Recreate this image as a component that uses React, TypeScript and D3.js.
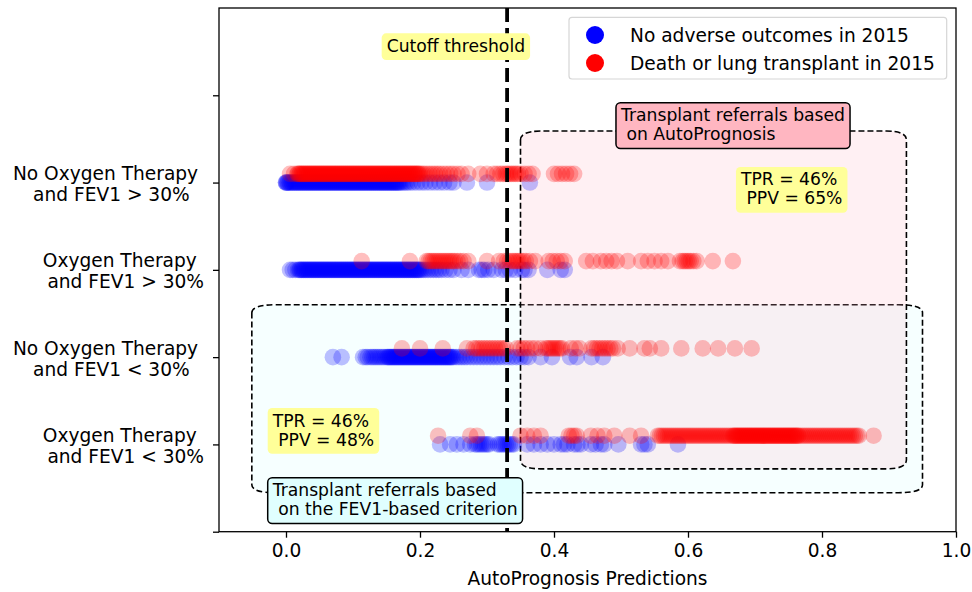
import React, { useEffect, useRef } from "react";
import * as d3 from "d3";

// rows bottom -> top (y = 1..4)
const rowLabels = [
  ["Oxygen Therapy ", " and FEV1 < 30%"],
  ["No Oxygen Therapy ", " and FEV1 < 30%"],
  ["Oxygen Therapy ", " and FEV1 > 30%"],
  ["No Oxygen Therapy ", " and FEV1 > 30%"],
];

const xTicks = [0.0, 0.2, 0.4, 0.6, 0.8, 1.0];
const yTicks = [0, 1, 2, 3, 4, 5];
const cutoff = 0.33;

// predictions, patients with no adverse outcome
const o2LowNeg = [0.230,0.245,0.255,0.265,0.275,0.282,0.285,0.288,0.291,0.294,0.297,0.300,0.303,0.316,0.319,0.322,0.325,0.328,0.331,0.334,0.337,0.340,0.360,0.370,0.380,0.390,0.400,0.410,0.415,0.420,0.430,0.435,0.440,0.455,0.462,0.470,0.475,0.496,0.530,0.535,0.540,0.585];
const noO2LowNeg = [0.070,0.083,0.115,0.119,0.122,0.126,0.129,0.132,0.135,0.138,0.141,0.144,0.147,
  0.150,0.152,0.153,0.155,0.156,0.158,0.159,0.161,0.162,0.164,0.165,0.167,0.168,0.170,0.171,0.173,0.174,0.176,0.177,0.179,0.180,0.182,0.183,0.185,0.186,0.188,0.189,0.191,0.192,0.194,0.195,0.197,0.198,0.200,
  0.201,0.203,0.204,0.206,0.207,0.209,0.210,0.212,0.213,0.215,0.216,0.218,0.219,0.221,0.222,0.224,0.225,0.227,0.228,0.230,0.231,0.233,0.234,0.236,0.237,0.239,0.240,0.242,0.243,0.245,0.246,0.248,0.250,
  0.254,0.258,0.262,0.266,0.270,0.275,0.280,0.285,0.290,0.295,0.300,0.305,0.310,0.315,0.320,0.326,0.332,0.338,0.344,0.350,0.356,0.362,0.380,0.397,0.424,0.434,0.456,0.473];
const o2HighNeg = [0.006,0.010,0.014,
  0.018,0.020,0.021,0.023,0.024,0.026,0.027,0.029,0.030,0.032,0.033,0.035,0.036,0.038,0.039,0.041,0.042,0.044,0.045,0.047,0.048,0.050,0.051,0.053,0.054,0.056,0.057,0.059,0.060,0.062,0.063,0.065,0.066,0.068,0.069,0.071,0.072,0.074,0.075,0.077,0.078,0.080,
  0.081,0.083,0.084,0.086,0.087,0.089,0.090,0.092,0.093,0.095,0.096,0.098,0.099,0.101,0.102,0.104,0.105,0.107,0.108,0.110,0.111,0.113,0.114,0.116,0.117,0.119,0.120,0.122,0.123,0.125,0.126,0.128,0.129,0.131,0.132,0.134,0.135,0.137,0.138,0.140,
  0.141,0.143,0.144,0.146,0.147,0.149,0.150,0.152,0.153,0.155,0.156,0.158,0.159,0.161,0.162,0.164,0.165,0.167,0.168,0.170,0.171,0.173,0.174,0.176,0.177,0.179,0.180,0.182,0.183,0.185,0.186,0.188,0.189,0.191,0.192,0.194,0.195,0.197,0.198,0.200,0.202,0.205,0.208,
  0.212,0.216,0.220,0.224,0.228,0.232,0.238,0.244,0.250,0.262,0.272,0.288,0.292,0.296,0.302,0.310,0.322,0.328,0.334,0.342,0.352,0.356,0.362,0.390,0.410,0.416];
const noO2HighNeg = [0.000,0.000,0.001,0.002,0.003,0.005,0.006,0.008,0.009,0.011,0.012,0.014,0.015,0.017,
  0.018,0.020,0.021,0.023,0.024,0.026,0.027,0.029,0.030,0.032,0.033,0.035,0.036,0.038,0.039,0.041,0.042,0.044,0.045,0.047,0.048,0.050,0.051,0.053,0.054,0.056,0.057,0.059,0.060,0.062,0.063,0.065,0.066,0.068,0.069,0.071,0.072,0.074,0.075,0.077,0.078,0.080,
  0.081,0.083,0.084,0.086,0.087,0.089,0.090,0.092,0.093,0.095,0.096,0.098,0.099,0.101,0.102,0.104,0.105,0.107,0.108,0.110,0.111,0.113,0.114,0.116,0.117,0.119,0.120,0.122,0.123,0.125,0.126,0.128,0.129,0.131,0.132,0.134,0.135,0.137,0.138,0.140,
  0.141,0.143,0.144,0.146,0.147,0.149,0.150,0.152,0.153,0.155,0.156,0.158,0.159,0.161,0.162,0.164,0.165,0.167,0.168,0.170,0.172,0.175,0.178,0.181,
  0.185,0.190,0.196,0.202,0.208,0.215,0.222,0.229,0.236,0.244,0.250,0.270,0.300,0.364];

// predictions, patients who died or got a transplant
const o2LowPos = [0.227,0.275,0.285,0.350,0.360,0.370,0.380,0.422,0.426,0.430,0.434,0.455,0.465,0.475,0.490,0.513,0.530,
  0.555,0.558,0.561,0.564,0.567,0.570,0.573,0.576,0.579,0.582,0.585,0.588,0.591,0.594,0.597,0.600,0.603,0.606,0.609,0.612,0.615,0.618,0.621,0.624,0.627,0.630,0.633,0.636,0.639,0.642,0.645,0.648,0.651,0.654,0.657,0.660,0.663,0.666,
  0.668,0.669,0.671,0.672,0.674,0.675,0.677,0.678,0.680,0.681,0.683,0.684,0.686,0.687,0.689,0.690,0.692,0.693,0.695,0.696,0.698,0.699,0.701,0.702,0.704,0.705,0.707,0.708,0.710,0.711,0.713,0.714,0.716,0.717,0.719,0.720,
  0.722,0.723,0.725,0.726,0.728,0.729,0.731,0.732,0.734,0.735,0.737,0.738,0.740,0.741,0.743,0.744,0.746,0.747,0.749,0.750,0.752,0.753,0.755,0.756,0.758,0.759,0.761,0.762,0.764,0.765,
  0.768,0.771,0.774,0.777,0.780,0.783,0.786,0.789,0.792,0.795,0.798,0.801,0.804,0.807,0.810,0.813,0.816,0.819,0.822,0.825,0.828,0.831,0.834,0.837,0.840,0.843,0.846,0.849,0.852,0.855,0.877];
const noO2LowPos = [0.173,0.200,0.234,0.270,0.280,0.284,0.288,0.292,0.296,0.300,0.304,0.308,0.312,0.316,0.320,0.324,0.328,0.345,0.350,0.355,0.360,0.366,0.372,0.380,0.388,0.391,0.394,0.397,0.400,0.403,0.406,0.409,0.412,0.425,0.432,0.438,0.456,0.460,0.464,0.468,0.472,0.476,0.480,0.484,0.488,0.495,0.513,0.535,0.543,0.560,0.590,0.622,0.645,0.670,0.695];
const o2HighPos = [0.113,0.185,0.210,0.213,0.216,0.219,0.222,0.225,0.228,0.231,0.234,0.237,0.240,0.243,0.246,0.249,0.252,0.256,0.260,0.265,0.272,0.300,0.318,0.325,0.330,0.334,0.338,0.341,0.344,0.347,0.350,0.354,0.358,0.364,0.372,0.392,0.398,0.404,0.410,0.416,0.448,0.458,0.470,0.478,0.486,0.494,0.510,0.530,0.540,0.550,0.560,0.570,0.588,0.592,0.595,0.598,0.601,0.604,0.608,0.613,0.637,0.667];
const noO2HighPos = [0.006,0.012,
  0.017,0.018,0.020,0.021,0.023,0.024,0.026,0.027,0.029,0.030,0.032,0.033,0.035,0.036,0.038,0.039,0.041,0.042,0.044,0.045,0.047,0.048,0.050,0.051,0.053,0.054,0.056,0.057,0.059,0.060,0.062,0.063,0.065,0.066,0.068,0.069,0.071,0.072,0.074,0.075,0.077,0.078,0.080,
  0.081,0.083,0.084,0.086,0.087,0.089,0.090,0.092,0.093,0.095,0.096,0.098,0.099,0.101,0.102,0.104,0.105,0.107,0.108,0.110,0.111,0.113,0.114,0.116,0.117,0.119,0.120,0.122,0.123,0.125,0.126,0.128,0.129,0.131,0.132,0.134,0.135,0.137,0.138,0.140,
  0.141,0.143,0.144,0.146,0.147,0.149,0.150,0.152,0.153,0.155,0.156,0.158,0.159,0.161,0.162,0.164,0.165,0.167,0.168,0.170,0.171,0.173,0.174,0.176,0.177,0.179,0.180,0.182,0.183,0.185,0.186,0.188,0.189,0.191,0.192,0.194,0.195,0.197,0.198,0.200,0.203,0.206,
  0.210,0.214,0.218,0.222,0.226,0.230,0.235,0.240,0.245,0.250,0.256,0.262,0.272,0.290,0.300,0.310,0.315,0.320,0.324,0.328,0.331,0.334,0.337,0.340,0.343,0.346,0.350,0.356,0.362,0.368,0.400,0.406,0.412,0.418,0.424,0.430];

const negRows = [o2LowNeg, noO2LowNeg, o2HighNeg, noO2HighNeg];
const posRows = [o2LowPos, noO2LowPos, o2HighPos, noO2HighPos];

const legendLabels = ["No adverse outcomes in 2015", "Death or lung transplant in 2015"];

const FONT = "DejaVu Sans, Verdana, sans-serif";

export default function App() {
  const ref = useRef<SVGSVGElement>(null);

  useEffect(() => {
    document.body.style.margin = "0";
    const svg = d3.select(ref.current);
    svg.selectAll("*").remove();

    const x = d3.scaleLinear().domain([-0.1, 1.0]).range([219, 956]);
    const y = d3.scaleLinear().domain([0, 6]).range([531.7, 8]);

    const roundPath = (x0: number, y0: number, x1: number, y1: number, rx: number, ry: number) =>
      `M${x0},${y0 + ry} Q${x0},${y0} ${x0 + rx},${y0} L${x1 - rx},${y0} Q${x1},${y0} ${x1},${y0 + ry}` +
      ` L${x1},${y1 - ry} Q${x1},${y1} ${x1 - rx},${y1} L${x0 + rx},${y1} Q${x0},${y1} ${x0},${y1 - ry} Z`;

    // referral regions
    svg.append("path")
      .attr("d", roundPath(x(-0.051), y(2.6), x(0.95), y(0.447), 24, 8))
      .attr("fill", "#e0ffff").attr("fill-opacity", 0.3)
      .attr("stroke", "#000").attr("stroke-width", 1.6).attr("stroke-dasharray", "6,3");
    svg.append("path")
      .attr("d", roundPath(x(0.35), y(4.59), x(0.926), y(0.72), 20, 9))
      .attr("fill", "#ffb6c1").attr("fill-opacity", 0.2)
      .attr("stroke", "#000").attr("stroke-width", 1.6).attr("stroke-dasharray", "6,3");

    // points
    const r = 8.3;
    negRows.forEach((vals, i) => {
      svg.append("g").selectAll("circle").data(vals).enter().append("circle")
        .attr("cx", d => x(d)).attr("cy", y(i + 1)).attr("r", r)
        .attr("fill", "blue").attr("fill-opacity", 0.25);
    });
    posRows.forEach((vals, i) => {
      svg.append("g").selectAll("circle").data(vals).enter().append("circle")
        .attr("cx", d => x(d)).attr("cy", y(i + 1.1)).attr("r", r)
        .attr("fill", "red").attr("fill-opacity", 0.25);
    });

    // cutoff
    svg.append("line")
      .attr("x1", x(cutoff)).attr("x2", x(cutoff)).attr("y1", y(6)).attr("y2", y(0))
      .attr("stroke", "#000").attr("stroke-width", 3.8).attr("stroke-dasharray", "14,6");

    // frame
    svg.append("rect")
      .attr("x", x(-0.1)).attr("y", y(6)).attr("width", x(1) - x(-0.1)).attr("height", y(0) - y(6))
      .attr("fill", "none").attr("stroke", "#000").attr("stroke-width", 1.3);

    // x axis
    const gx = svg.append("g").attr("transform", `translate(0,${y(0)})`)
      .call(d3.axisBottom(x).tickValues(xTicks).tickFormat(d3.format(".1f")).tickSize(6).tickPadding(6.5));
    gx.select(".domain").remove();
    gx.selectAll("line").attr("stroke-width", 1.3);
    gx.selectAll("text").attr("font-family", FONT).attr("font-size", 18.6).attr("fill", "#000");

    svg.append("text")
      .attr("x", (x(-0.1) + x(1)) / 2).attr("y", 585)
      .attr("text-anchor", "middle").attr("font-family", FONT).attr("font-size", 18.6)
      .text("AutoPrognosis Predictions");

    // y axis
    const gy = svg.append("g").attr("transform", `translate(${x(-0.1)},0)`)
      .call(d3.axisLeft(y).tickValues(yTicks).tickFormat(() => "").tickSize(6));
    gy.select(".domain").remove();
    gy.selectAll("line").attr("stroke-width", 1.3);

    const right = x(-0.1) - 15;
    rowLabels.forEach((lines, i) => {
      const ty = y(i + 1);
      const texts = lines.map((ln, k) =>
        svg.append("text")
          .attr("y", ty - 2.6 + k * 21)
          .attr("font-family", FONT).attr("font-size", 18.6)
          .attr("text-anchor", "middle")
          .style("white-space", "pre")
          .text(ln)
      );
      const w = d3.max(texts, t => (t.node() as SVGTextElement).getComputedTextLength()) || 0;
      texts.forEach(t => t.attr("x", right - w / 2));
    });

    // annotations
    const notes = [
      { lines: ["Cutoff threshold"], x: 0.1428, y: 5.71, fill: "#ffff99", edge: false },
      { lines: ["Transplant referrals based", " on AutoPrognosis"], x: 0.4925, y: 4.915, fill: "#ffb6c1", edge: true },
      { lines: ["TPR = 46%", " PPV = 65%"], x: 0.6716, y: 4.179, fill: "#ffff99", edge: false },
      { lines: ["TPR = 46%", " PPV = 48%"], x: -0.0273, y: 1.417, fill: "#ffff99", edge: false },
      { lines: ["Transplant referrals based", " on the FEV1-based criterion"], x: -0.0273, y: 0.619, fill: "#e0ffff", edge: true },
    ];
    notes.forEach(n => {
      const g = svg.append("g");
      const bx = x(n.x), by = y(n.y);
      const box = g.append("rect");
      const texts = n.lines.map((ln, k) =>
        g.append("text")
          .attr("x", bx + 5).attr("y", by + 18.5 + k * 19)
          .attr("font-family", FONT).attr("font-size", 17.2)
          .style("white-space", "pre")
          .text(ln)
      );
      const w = d3.max(texts, t => (t.node() as SVGTextElement).getComputedTextLength()) || 0;
      const h = 18.5 + (n.lines.length - 1) * 19 + 8.3;
      box.attr("x", bx).attr("y", by).attr("width", w + 10).attr("height", h)
        .attr("rx", 4.5).attr("fill", n.fill)
        .attr("stroke", n.edge ? "#000" : "none").attr("stroke-width", 1.5);
    });

    // legend
    const lg = svg.append("g");
    lg.append("rect")
      .attr("x", 569).attr("y", 17.3).attr("width", 377.7).attr("height", 61.7).attr("rx", 3)
      .attr("fill", "#fff").attr("fill-opacity", 0.8).attr("stroke", "#d6d6d6").attr("stroke-width", 1.2);
    ["blue", "red"].forEach((c, i) => {
      lg.append("circle").attr("cx", 595).attr("cy", 35 + i * 28).attr("r", 9).attr("fill", c);
      lg.append("text").attr("x", 630).attr("y", 41.5 + i * 28)
        .attr("font-family", FONT).attr("font-size", 18.6).text(legendLabels[i]);
    });
  }, []);

  return <svg ref={ref} width={972} height={592} style={{ display: "block", background: "#fff" }} />;
}
